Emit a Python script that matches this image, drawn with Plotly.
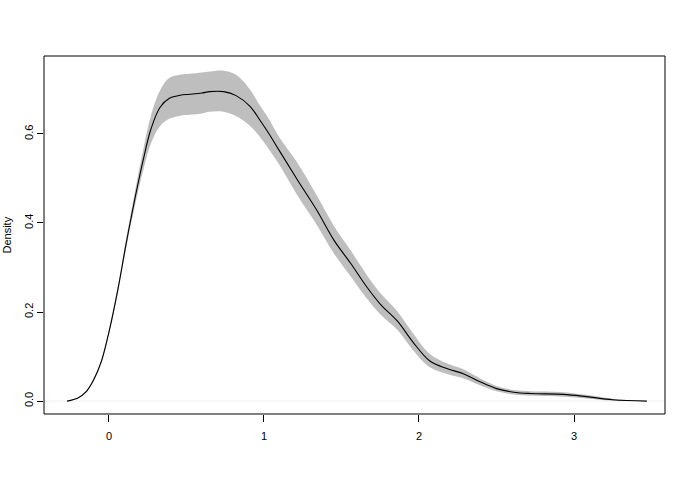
import plotly.graph_objects as go

x_vals = [-0.27, -0.20, -0.15, -0.10, -0.05, 0.00, 0.06, 0.11, 0.17, 0.22, 0.27, 0.33,
          0.39, 0.46, 0.52, 0.60, 0.65, 0.74, 0.82, 0.91, 0.97, 1.02, 1.10, 1.21,
          1.34, 1.45, 1.56, 1.66, 1.75, 1.86, 1.96, 2.07, 2.18, 2.29, 2.39, 2.50,
          2.61, 2.72, 2.93, 3.08, 3.25, 3.47]
density = [0.000, 0.007, 0.020, 0.047, 0.088, 0.155, 0.255, 0.352, 0.459, 0.540, 0.610, 0.660,
           0.680, 0.687, 0.689, 0.692, 0.695, 0.695, 0.686, 0.662, 0.633, 0.607, 0.562, 0.500,
           0.429, 0.362, 0.309, 0.258, 0.218, 0.180, 0.133, 0.090, 0.073, 0.061, 0.044, 0.028,
           0.020, 0.017, 0.015, 0.010, 0.003, 0.000]
upper = [0.000, 0.008, 0.022, 0.050, 0.092, 0.161, 0.263, 0.363, 0.475, 0.563, 0.640, 0.698,
         0.726, 0.733, 0.735, 0.738, 0.740, 0.742, 0.733, 0.700, 0.666, 0.640, 0.592, 0.538,
         0.462, 0.394, 0.338, 0.285, 0.243, 0.202, 0.153, 0.106, 0.085, 0.071, 0.052, 0.034,
         0.025, 0.022, 0.020, 0.014, 0.005, 0.000]
lower = [0.000, 0.006, 0.018, 0.044, 0.084, 0.149, 0.247, 0.341, 0.443, 0.517, 0.578, 0.618,
         0.634, 0.641, 0.643, 0.646, 0.650, 0.650, 0.640, 0.618, 0.595, 0.572, 0.530, 0.465,
         0.396, 0.332, 0.280, 0.232, 0.195, 0.160, 0.115, 0.076, 0.061, 0.051, 0.036, 0.022,
         0.015, 0.012, 0.010, 0.006, 0.001, 0.000]

x_ticks = [0, 1, 2, 3]
x_ticktext = ["0", "1", "2", "3"]
y_ticks = [0.0, 0.2, 0.4, 0.6]
y_ticktext = ["0.0", "0.2", "0.4", "0.6"]
y_title = "Density"

FONT = "Liberation Sans Narrow, Liberation Sans, Arial, sans-serif"

fig = go.Figure()
fig.add_trace(go.Scatter(x=x_vals, y=lower, mode="lines", line=dict(width=0, shape="spline", color="#bebebe"),
                         showlegend=False, hoverinfo="skip"))
fig.add_trace(go.Scatter(x=x_vals, y=upper, mode="lines", line=dict(width=0, shape="spline", color="#bebebe"),
                         fill="tonexty", fillcolor="#bebebe", showlegend=False, hoverinfo="skip"))
fig.add_trace(go.Scatter(x=x_vals, y=density, mode="lines", line=dict(width=1.1, color="black", shape="spline"),
                         showlegend=False))

fig.add_shape(type="line", xref="paper", yref="y", x0=0, x1=1, y0=0, y1=0,
              line=dict(color="#eeeeee", width=1), layer="below")
fig.add_shape(type="rect", xref="paper", yref="paper", x0=0, x1=1, y0=0, y1=1,
              line=dict(color="black", width=1))

fig.add_annotation(text=y_title, xref="paper", yref="paper", x=0, y=0.5, xshift=-37.5,
                   xanchor="center", yanchor="middle", textangle=-90, showarrow=False,
                   font=dict(size=11, family=FONT, color="black"))

fig.update_layout(
    width=692, height=485,
    margin=dict(l=44, r=27, t=56, b=71, autoexpand=False),
    plot_bgcolor="white", paper_bgcolor="white",
    font=dict(family=FONT, size=11, color="black"),
    xaxis=dict(range=[-0.419, 3.587], tickvals=x_ticks, ticktext=x_ticktext, automargin=False,
               ticks="outside", ticklen=7, tickcolor="black", showgrid=False, zeroline=False,
               showline=False, tickfont=dict(size=11), ticklabelstandoff=5),
    yaxis=dict(range=[-0.029, 0.775], tickvals=y_ticks, ticktext=y_ticktext, automargin=False,
               ticks="outside", ticklen=6, tickcolor="black", showgrid=False, zeroline=False,
               showline=False, tickangle=-90, tickfont=dict(size=11)),
)

fig.write_html("out.html", config={"displayModeBar": False},
               post_script="document.body.style.margin='0px';")
